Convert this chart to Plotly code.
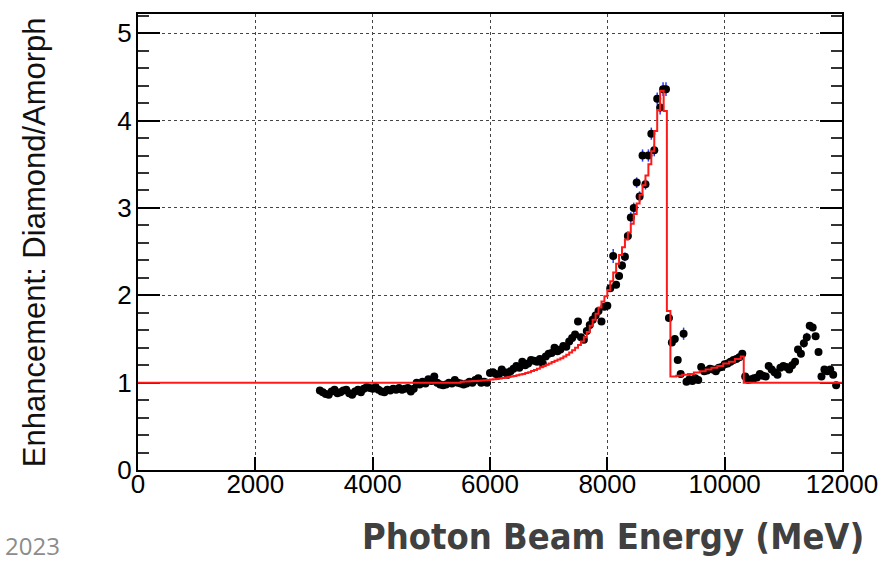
import plotly.graph_objects as go

# ---------------- data ----------------
energy = [
    3100, 3150, 3200, 3250, 3300, 3350, 3400, 3450, 3500, 3550,
    3600, 3650, 3700, 3750, 3800, 3850, 3900, 3950, 4000, 4050,
    4100, 4150, 4200, 4250, 4300, 4350, 4400, 4450, 4500, 4550,
    4600, 4650, 4700, 4750, 4800, 4850, 4900, 4950, 5000, 5050,
    5100, 5150, 5200, 5250, 5300, 5350, 5400, 5450, 5500, 5550,
    5600, 5650, 5700, 5750, 5800, 5850, 5900, 5950, 6000, 6050,
    6100, 6150, 6200, 6250, 6300, 6350, 6400, 6450, 6500, 6550,
    6600, 6650, 6700, 6750, 6800, 6850, 6900, 6950, 7000, 7050,
    7100, 7150, 7200, 7250, 7300, 7350, 7400, 7450, 7500, 7550,
    7600, 7650, 7700, 7750, 7800, 7850, 7900, 7950, 8000, 8050,
    8100, 8150, 8200, 8250, 8300, 8350, 8400, 8450, 8500, 8550,
    8600, 8650, 8700, 8750, 8800, 8850, 8900, 8950, 9000, 9050,
    9100, 9150, 9200, 9250, 9300, 9350, 9400, 9450, 9500, 9550,
    9600, 9650, 9700, 9750, 9800, 9850, 9900, 9950, 10000, 10050,
    10100, 10150, 10200, 10250, 10300, 10350, 10400, 10450, 10500, 10550,
    10600, 10650, 10700, 10750, 10800, 10850, 10900, 10950, 11000, 11050,
    11100, 11150, 11200, 11250, 11300, 11350, 11400, 11450, 11500, 11550,
    11600, 11650, 11700, 11750, 11800, 11850, 11900,
]

enhancement = [
    0.91, 0.89, 0.87, 0.86, 0.90, 0.92, 0.88, 0.89, 0.91, 0.92,
    0.88, 0.86, 0.90, 0.92, 0.89, 0.93, 0.95, 0.94, 0.93, 0.95,
    0.92, 0.90, 0.89, 0.92, 0.91, 0.93, 0.92, 0.94, 0.92, 0.93,
    0.94, 0.90, 0.93, 1.00, 0.98, 1.01, 0.99, 1.04, 1.02, 1.07,
    1.00, 0.98, 0.97, 0.98, 1.00, 0.99, 1.03, 1.00, 0.99, 0.98,
    0.99, 1.01, 1.00, 1.03, 1.05, 1.00, 1.01, 1.00, 1.11, 1.12,
    1.10, 1.09, 1.15, 1.12, 1.09, 1.13, 1.16, 1.19, 1.17, 1.24,
    1.20, 1.22, 1.26, 1.25, 1.24, 1.27, 1.22, 1.30, 1.33, 1.34,
    1.40, 1.36, 1.38, 1.42, 1.41, 1.47, 1.51, 1.55, 1.70, 1.52,
    1.49, 1.59, 1.66, 1.72, 1.77, 1.82, 1.70, 1.87, 1.88, 2.08,
    2.45, 2.12, 2.22, 2.34, 2.44, 2.68, 2.89, 3.00, 3.29, 3.13,
    3.60, 3.27, 3.60, 3.85, 3.66, 4.25, 4.15, 4.36, 4.36, 1.74,
    1.46, 1.50, 1.26, 1.10, 1.56, 1.01, 1.04, 1.02, 1.05, 1.03,
    1.18, 1.13, 1.14, 1.16, 1.15, 1.13, 1.17, 1.18, 1.21, 1.22,
    1.24, 1.26, 1.27, 1.29, 1.33, 1.07, 1.03, 1.04, 1.05, 1.06,
    1.10, 1.08, 1.07, 1.19, 1.15, 1.12, 1.09, 1.17, 1.19, 1.18,
    1.15, 1.20, 1.24, 1.38, 1.33, 1.45, 1.52, 1.65, 1.63, 1.53,
    1.35, 1.07, 1.15, 1.13, 1.15, 1.09, 0.97,
]

errors = [0.02] * 98 + [
    0.04, 0.04, 0.08, 0.04, 0.04, 0.05, 0.05, 0.05, 0.06, 0.06,
    0.06, 0.06, 0.07, 0.06, 0.07, 0.07, 0.07, 0.07, 0.08, 0.08,
    0.08, 0.04, 0.04, 0.04, 0.03, 0.03, 0.07, 0.03, 0.03, 0.03,
    0.03, 0.03, 0.03, 0.03, 0.03, 0.03, 0.03, 0.03, 0.03, 0.03,
    0.03, 0.03, 0.03, 0.03, 0.03, 0.03, 0.03, 0.03, 0.03, 0.03,
    0.03, 0.03, 0.03, 0.03, 0.03, 0.03, 0.03, 0.03, 0.03, 0.03,
    0.03, 0.03, 0.03, 0.04, 0.04, 0.04, 0.04, 0.05, 0.05, 0.04,
    0.04, 0.03, 0.03, 0.03, 0.03, 0.03, 0.03, 0.03, 0.03,
]

# red step histogram (left bin edges and bin contents)
red_edges = [
    0, 5500, 5550, 5600, 5650, 5700, 5750, 5800, 5850, 5900, 5950,
    6000, 6050, 6100, 6150, 6200, 6250, 6300, 6350, 6400, 6450,
    6500, 6550, 6600, 6650, 6700, 6750, 6800, 6850, 6900, 6950,
    7000, 7050, 7100, 7150, 7200, 7250, 7300, 7350, 7400, 7450,
    7500, 7550, 7600, 7650, 7700, 7750, 7800, 7850, 7900, 7950,
    8000, 8050, 8100, 8150, 8200, 8250, 8300, 8350, 8400, 8450,
    8500, 8550, 8600, 8650, 8700, 8750, 8800, 8850, 8900, 8960,
    9015, 9075, 9175, 9275, 9375, 9475, 9575, 9675, 9775, 9875,
    9975, 10075, 10175, 10275, 10325, 12000,
]
red_values = [
    1.00, 1.010, 1.012, 1.014, 1.016, 1.018, 1.020, 1.022, 1.025, 1.028, 1.031,
    1.035, 1.039, 1.043, 1.048, 1.053, 1.058, 1.064, 1.070, 1.077, 1.084,
    1.092, 1.100, 1.110, 1.120, 1.132, 1.145, 1.160, 1.175, 1.19, 1.205,
    1.22, 1.235, 1.25, 1.265, 1.28, 1.30, 1.32, 1.345, 1.37, 1.40,
    1.43, 1.47, 1.52, 1.58, 1.65, 1.72, 1.79, 1.86, 1.93, 1.99,
    2.06, 2.16, 2.26, 2.36, 2.46, 2.55, 2.64, 2.72, 2.82, 2.93,
    3.05, 3.15, 3.26, 3.37, 3.50, 3.65, 3.88, 4.12, 4.34, 4.11,
    1.82, 1.07, 1.08, 1.09, 1.10, 1.115, 1.13, 1.15, 1.17, 1.19,
    1.22, 1.24, 1.27, 1.30, 1.00, 1.00,
]

x_ticks = [0, 2000, 4000, 6000, 8000, 10000, 12000]
y_ticks = [0, 1, 2, 3, 4, 5]

y_title = "Enhancement: Diamond/Amorph"
x_title = "Photon Beam Energy (MeV)"
year_text = "2023"

# ---------------- figure ----------------
fig = go.Figure()

fig.add_trace(go.Scatter(
    x=energy, y=enhancement, mode="markers",
    marker=dict(color="black", size=8),
    error_y=dict(type="data", array=errors, color="#2a3cff",
                 thickness=1.5, width=0),
    showlegend=False,
))

fig.add_trace(go.Scatter(
    x=red_edges, y=red_values, mode="lines",
    line=dict(color="#ff1a1a", width=2, shape="hv"),
    showlegend=False,
))

tickfont = dict(family="Liberation Sans, Arial, sans-serif", size=26, color="black")

fig.update_layout(
    width=890, height=562,
    margin=dict(l=138, r=41, t=14, b=92),
    paper_bgcolor="white", plot_bgcolor="white",
    showlegend=False,
    xaxis=dict(
        range=[0, 12000], tickvals=x_ticks, ticktext=[str(v) for v in x_ticks],
        ticks="inside", ticklen=13, tickwidth=1.5, tickcolor="black",
        showline=True, linecolor="black", linewidth=2, mirror=True,
        showgrid=True, gridcolor="#444", griddash="dot", gridwidth=1,
        zeroline=False, tickfont=tickfont, ticklabelstandoff=-10,
        layer="below traces",
    ),
    yaxis=dict(
        range=[0, 5.22], tickvals=y_ticks, ticktext=[str(v) for v in y_ticks],
        ticks="inside", ticklen=22, tickwidth=1.5, tickcolor="black",
        minor=dict(dtick=0.2, ticks="inside", ticklen=11, tickwidth=1.5,
                   tickcolor="#333", showgrid=False),
        showline=True, linecolor="black", linewidth=2, mirror="ticks",
        showgrid=True, gridcolor="#444", griddash="dot", gridwidth=1,
        zeroline=False, tickfont=tickfont, ticklabelstandoff=-1,
        layer="below traces",
    ),
    annotations=[
        dict(text=y_title, xref="paper", yref="paper",
             x=-0.1475, y=0.5, xanchor="center", yanchor="middle",
             textangle=-90, showarrow=False,
             font=dict(family="Liberation Sans, Arial, sans-serif", size=31, color="#111")),
        dict(text="<b>" + x_title + "</b>", xref="paper", yref="paper",
             x=1.034, y=-0.146, xanchor="right", yanchor="middle",
             showarrow=False,
             font=dict(family="Liberation Sans Narrow, DejaVu Sans Condensed, Roboto Condensed, Arial Narrow, sans-serif",
                       size=36, color="#404040")),
        dict(text=year_text, xref="paper", yref="paper",
             x=-0.1915, y=-0.166, xanchor="left", yanchor="middle",
             showarrow=False,
             font=dict(family="Open Sans, Noto Sans, sans-serif", size=24, color="#8c8c8c")),
    ],
)

fig.write_html("out.html")
